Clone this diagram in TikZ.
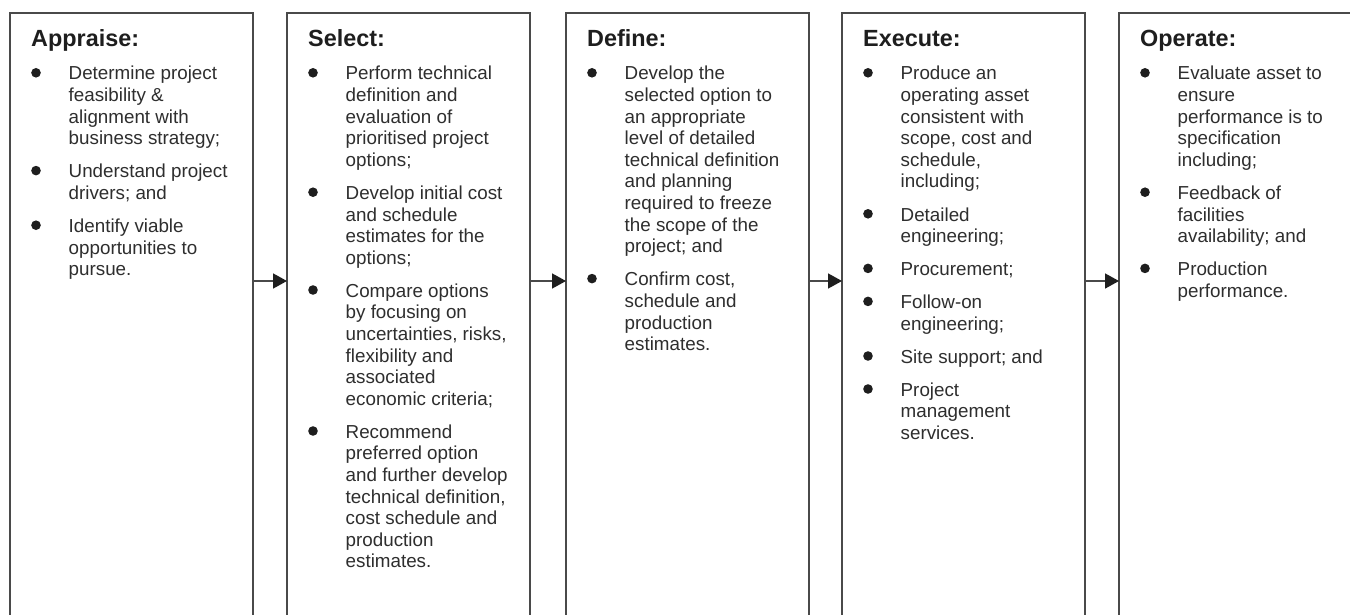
\documentclass[tikz,border=0pt]{standalone}
\usepackage{fontspec}
\setmainfont{Liberation Sans}
\usetikzlibrary{arrows.meta}

\definecolor{frame}{HTML}{4A4A4A}
\definecolor{ink}{HTML}{2E2E2E}
\definecolor{headink}{HTML}{1E1E1E}

\tikzset{
  phasebox/.style={draw=frame, line width=2.4pt, rectangle, anchor=north west,
    minimum width=243pt, minimum height=640pt, inner sep=0pt, outer sep=0pt},
  phasetitle/.style={anchor=base west, inner sep=0pt, text=headink,
    font=\fontsize{23.4}{28}\selectfont\bfseries},
  itemtext/.style={anchor=base west, inner sep=0pt, text=ink,
    font=\fontsize{18.8}{21.6}\selectfont},
  bulletdot/.style={circle, fill=headink, draw=none, minimum size=9.6pt, inner sep=0pt},
  flowarrow/.style={draw=frame, line width=1.6pt,
    -{Triangle[length=14pt,width=15pt,color=headink]}}
}
\newcommand{\itemlines}[1]{\parbox[t]{200pt}{\raggedright #1}}

\begin{document}
\begin{tikzpicture}[x=1pt,y=-1pt]
\useasboundingbox[fill=white] (0,0) rectangle (1350,615);

% phase frames (they run past the lower edge of the page)
\node[phasebox] (b1) at (10,13) {};
\node[phasebox] (b2) at (287,13) {};
\node[phasebox] (b3) at (566,13) {};
\node[phasebox] (b4) at (842,13) {};
\node[phasebox] (b5) at (1119,13) {};

% arrows between the phases
\coordinate (arrowrow) at (0,281);
\draw[flowarrow] (b1.east |- arrowrow) -- (b2.west |- arrowrow);
\draw[flowarrow] (b2.east |- arrowrow) -- (b3.west |- arrowrow);
\draw[flowarrow] (b3.east |- arrowrow) -- (b4.west |- arrowrow);
\draw[flowarrow] (b4.east |- arrowrow) -- (b5.west |- arrowrow);

% Appraise
\node[phasetitle] (t1) at (31,47) {Appraise:};
\node[bulletdot] (d11) at (36,72.8) {};
\node[itemtext] (i11) at (68.5,80) {\itemlines{Determine project\\feasibility \&\\alignment with\\business strategy;}};
\node[bulletdot] (d12) at (36,170.6) {};
\node[itemtext] (i12) at (68.5,177.8) {\itemlines{Understand project\\drivers; and}};
\node[bulletdot] (d13) at (36,225.2) {};
\node[itemtext] (i13) at (68.5,232.4) {\itemlines{Identify viable\\opportunities to\\pursue.}};

% Select
\node[phasetitle] (t2) at (308,47) {Select:};
\node[bulletdot] (d21) at (313,72.8) {};
\node[itemtext] (i21) at (345.5,80) {\itemlines{Perform technical\\definition and\\evaluation of\\prioritised project\\options;}};
\node[bulletdot] (d22) at (313,192.2) {};
\node[itemtext] (i22) at (345.5,199.4) {\itemlines{Develop initial cost\\and schedule\\estimates for the\\options;}};
\node[bulletdot] (d23) at (313,290) {};
\node[itemtext] (i23) at (345.5,297.2) {\itemlines{Compare options\\by focusing on\\uncertainties, risks,\\flexibility and\\associated\\economic criteria;}};
\node[bulletdot] (d24) at (313,431) {};
\node[itemtext] (i24) at (345.5,438.2) {\itemlines{Recommend\\preferred option\\and further develop\\technical definition,\\cost schedule and\\production\\estimates.}};

% Define
\node[phasetitle] (t3) at (587,47) {Define:};
\node[bulletdot] (d31) at (592,72.8) {};
\node[itemtext] (i31) at (624.5,80) {\itemlines{Develop the\\selected option to\\an appropriate\\level of detailed\\technical definition\\and planning\\required to freeze\\the scope of the\\project; and}};
\node[bulletdot] (d32) at (592,278.6) {};
\node[itemtext] (i32) at (624.5,285.8) {\itemlines{Confirm cost,\\schedule and\\production\\estimates.}};

% Execute
\node[phasetitle] (t4) at (863,47) {Execute:};
\node[bulletdot] (d41) at (868,72.8) {};
\node[itemtext] (i41) at (900.5,80) {\itemlines{Produce an\\operating asset\\consistent with\\scope, cost and\\schedule,\\including;}};
\node[bulletdot] (d42) at (868,213.8) {};
\node[itemtext] (i42) at (900.5,221) {\itemlines{Detailed\\engineering;}};
\node[bulletdot] (d43) at (868,268.4) {};
\node[itemtext] (i43) at (900.5,275.6) {\itemlines{Procurement;}};
\node[bulletdot] (d44) at (868,301.4) {};
\node[itemtext] (i44) at (900.5,308.6) {\itemlines{Follow-on\\engineering;}};
\node[bulletdot] (d45) at (868,356) {};
\node[itemtext] (i45) at (900.5,363.2) {\itemlines{Site support; and}};
\node[bulletdot] (d46) at (868,389) {};
\node[itemtext] (i46) at (900.5,396.2) {\itemlines{Project\\management\\services.}};

% Operate
\node[phasetitle] (t5) at (1140,47) {Operate:};
\node[bulletdot] (d51) at (1145,72.8) {};
\node[itemtext] (i51) at (1177.5,80) {\itemlines{Evaluate asset to\\ensure\\performance is to\\specification\\including;}};
\node[bulletdot] (d52) at (1145,192.2) {};
\node[itemtext] (i52) at (1177.5,199.4) {\itemlines{Feedback of\\facilities\\availability; and}};
\node[bulletdot] (d53) at (1145,268.4) {};
\node[itemtext] (i53) at (1177.5,275.6) {\itemlines{Production\\performance.}};
\end{tikzpicture}
\end{document}
